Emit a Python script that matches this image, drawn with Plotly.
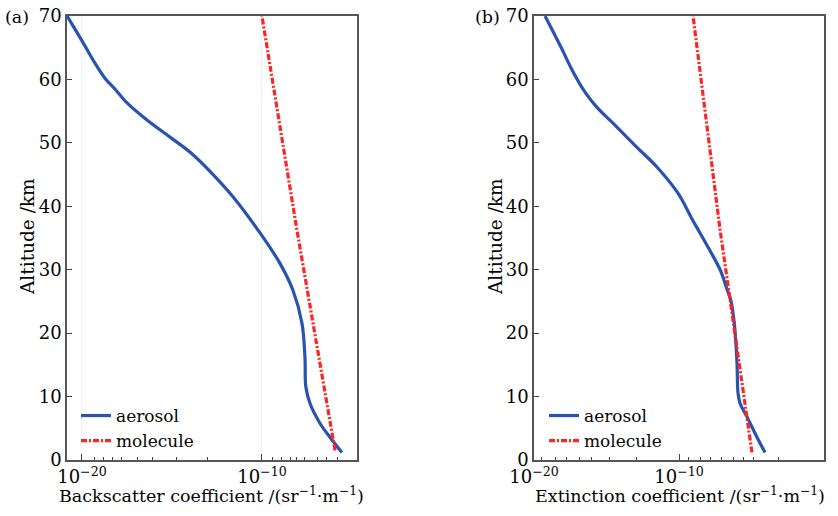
import plotly.graph_objects as go

# ---------------- data ----------------
# (a) backscatter coefficient
alt_aer_a = [1.2, 3.6, 5.8, 8.9, 11.5, 16.2, 21.6, 26.8, 31.0, 35.8, 41.5, 45.2,
             48.4, 50.9, 53.6, 56.3, 58.3, 60.2, 62.6, 66.0, 70.0]
bsc_aer = [2.75e-6, 6.0e-7, 1.66e-7, 4.7e-8, 2.75e-8, 2.45e-8, 1.66e-8, 5.2e-9,
           1.0e-9, 7.8e-11, 2.45e-12, 1.66e-13, 1.15e-14, 7.8e-16, 4.1e-17,
           3.2e-18, 7.8e-19, 1.9e-19, 5.2e-20, 1.05e-20, 1.5e-21]
alt_mol_a = [1.5, 36.3, 70.0]
bsc_mol = [1.15e-6, 8.7e-9, 1.0e-10]

# (b) extinction coefficient
alt_aer_b = [1.2, 3.6, 6.8, 9.0, 10.6, 15.3, 20.5, 22.0, 25.0, 27.0, 30.0, 33.0,
             35.8, 38.0, 42.1, 46.2, 49.3, 53.1, 55.6, 58.0, 61.5, 65.1, 70.0]
ext_aer = [8.5e-5, 2.4e-5, 4.9e-6, 1.6e-6, 1.17e-6, 1.0e-6, 7.2e-7, 6.2e-7,
           3.9e-7, 2.0e-7, 6.8e-8, 1.38e-8, 2.8e-9, 7.9e-10, 8.3e-11, 3.0e-12,
           1.26e-13, 2.8e-15, 2.2e-16, 3.3e-17, 4.2e-18, 7.2e-19, 5.8e-20]
alt_mol_b = [1.2, 36.3, 70.0]
ext_mol = [1.07e-5, 6.8e-8, 9.3e-10]

y_ticks = [0, 10, 20, 30, 40, 50, 60, 70]
xa_major = [1e-20, 1e-10]
xa_labels = ["10<sup>−20</sup>", "10<sup>−10</sup>"]
xb_major = [1e-20, 1e-10, 1e0]
xb_labels = ["10<sup>−20</sup>", "10<sup>−10</sup>", "10<sup>0</sup>"]
xa_minor_log = [-19.28, -18.83, -18.33, -17.78, -16.94, -16.06, -14.72, -13.0,
                -9.39, -8.89, -8.44, -8.06, -7.61, -6.94, -6.39, -5.83]
xb_minor_log = [-19.47, -18.55, -17.74, -16.83, -16.02, -14.76, -12.92,
                -9.36, -8.55, -7.86, -7.06, -6.25, -5.56, -4.87, -3.15]

BLUE = "#2853b0"
RED = "#ff2424"
FONT = "DejaVu Serif"
DASH = "6px,2px,2px,2px"
TXT = "#050505"

fig = go.Figure()
fig.add_trace(go.Scatter(x=bsc_aer, y=alt_aer_a, mode="lines", name="aerosol",
                         line=dict(color=BLUE, width=3.2, shape="spline", smoothing=1.0),
                         xaxis="x", yaxis="y", legend="legend"))
fig.add_trace(go.Scatter(x=bsc_mol, y=alt_mol_a, mode="lines", name="molecule",
                         line=dict(color=RED, width=3.2, dash=DASH),
                         xaxis="x", yaxis="y", legend="legend"))
fig.add_trace(go.Scatter(x=ext_aer, y=alt_aer_b, mode="lines", name="aerosol",
                         line=dict(color=BLUE, width=3.2, shape="spline", smoothing=1.0),
                         xaxis="x2", yaxis="y2", legend="legend2"))
fig.add_trace(go.Scatter(x=ext_mol, y=alt_mol_b, mode="lines", name="molecule",
                         line=dict(color=RED, width=3.2, dash=DASH),
                         xaxis="x2", yaxis="y2", legend="legend2"))

W, H = 838, 516
ydom = [(H - 460) / H, (H - 16) / H]
axis_common = dict(showline=True, linecolor="#555555", linewidth=1.5, mirror=True,
                   automargin=False, ticks="inside", tickcolor="#444444",
                   tickfont=dict(family=FONT, size=18, color=TXT))

fig.update_layout(
    width=W, height=H,
    margin=dict(l=0, r=0, t=0, b=0, autoexpand=False),
    paper_bgcolor="white", plot_bgcolor="white",
    showlegend=True,
    xaxis=dict(domain=[67 / W, 357 / W], type="log", range=[-20.83, -4.72],
               tickmode="array", tickvals=xa_major, ticktext=xa_labels, ticklen=6,
               showgrid=True, gridcolor="#f2f2f2", gridwidth=1, zeroline=False,
               minor=dict(tickmode="array", tickvals=[10 ** v for v in xa_minor_log],
                          ticklen=3, tickcolor="#444444", ticks="inside", showgrid=False),
               anchor="y", **axis_common),
    yaxis=dict(domain=ydom, range=[0, 70], tickvals=y_ticks, ticklen=5,
               showgrid=False, zeroline=False, anchor="x", **axis_common),
    xaxis2=dict(domain=[534 / W, 824 / W], type="log", range=[-20, 0],
                tickmode="array", tickvals=xb_major, ticktext=xb_labels, ticklen=6,
                showgrid=False, zeroline=False,
                minor=dict(tickmode="array", tickvals=[10 ** v for v in xb_minor_log],
                           ticklen=3, tickcolor="#444444", ticks="inside", showgrid=False),
                anchor="y2", **axis_common),
    yaxis2=dict(domain=ydom, range=[0, 70], tickvals=y_ticks, ticklen=5,
                showgrid=False, zeroline=False, anchor="x2", **axis_common),
    legend=dict(x=76 / W, y=(H - 398) / H, xanchor="left", yanchor="top",
                bgcolor="rgba(0,0,0,0)", font=dict(family=FONT, size=17, color=TXT),
                tracegroupgap=0, itemwidth=30),
    legend2=dict(x=544 / W, y=(H - 398) / H, xanchor="left", yanchor="top",
                 bgcolor="rgba(0,0,0,0)", font=dict(family=FONT, size=17, color=TXT),
                 tracegroupgap=0, itemwidth=30),
)

ann_font = dict(family=FONT, size=17.5, color=TXT)
anns = [
    dict(text="Backscatter coefficient /(sr<sup>−1</sup>·m<sup>−1</sup>)", x=212 / W, y=(H - 495) / H),
    dict(text="Extinction coefficient /(sr<sup>−1</sup>·m<sup>−1</sup>)", x=680 / W, y=(H - 495) / H),
    dict(text="Altitude /km", x=27 / W, y=(H - 237) / H, textangle=-90, font=dict(family=FONT, size=18.5, color=TXT)),
    dict(text="Altitude /km", x=495 / W, y=(H - 237) / H, textangle=-90, font=dict(family=FONT, size=18.5, color=TXT)),
    dict(text="(a)", x=17 / W, y=(H - 17) / H),
    dict(text="(b)", x=487 / W, y=(H - 17) / H),
]
for a in anns:
    a.setdefault("font", ann_font)
    fig.add_annotation(xref="paper", yref="paper", showarrow=False,
                       xanchor="center", yanchor="middle", **a)

fig.write_html("out.html")
